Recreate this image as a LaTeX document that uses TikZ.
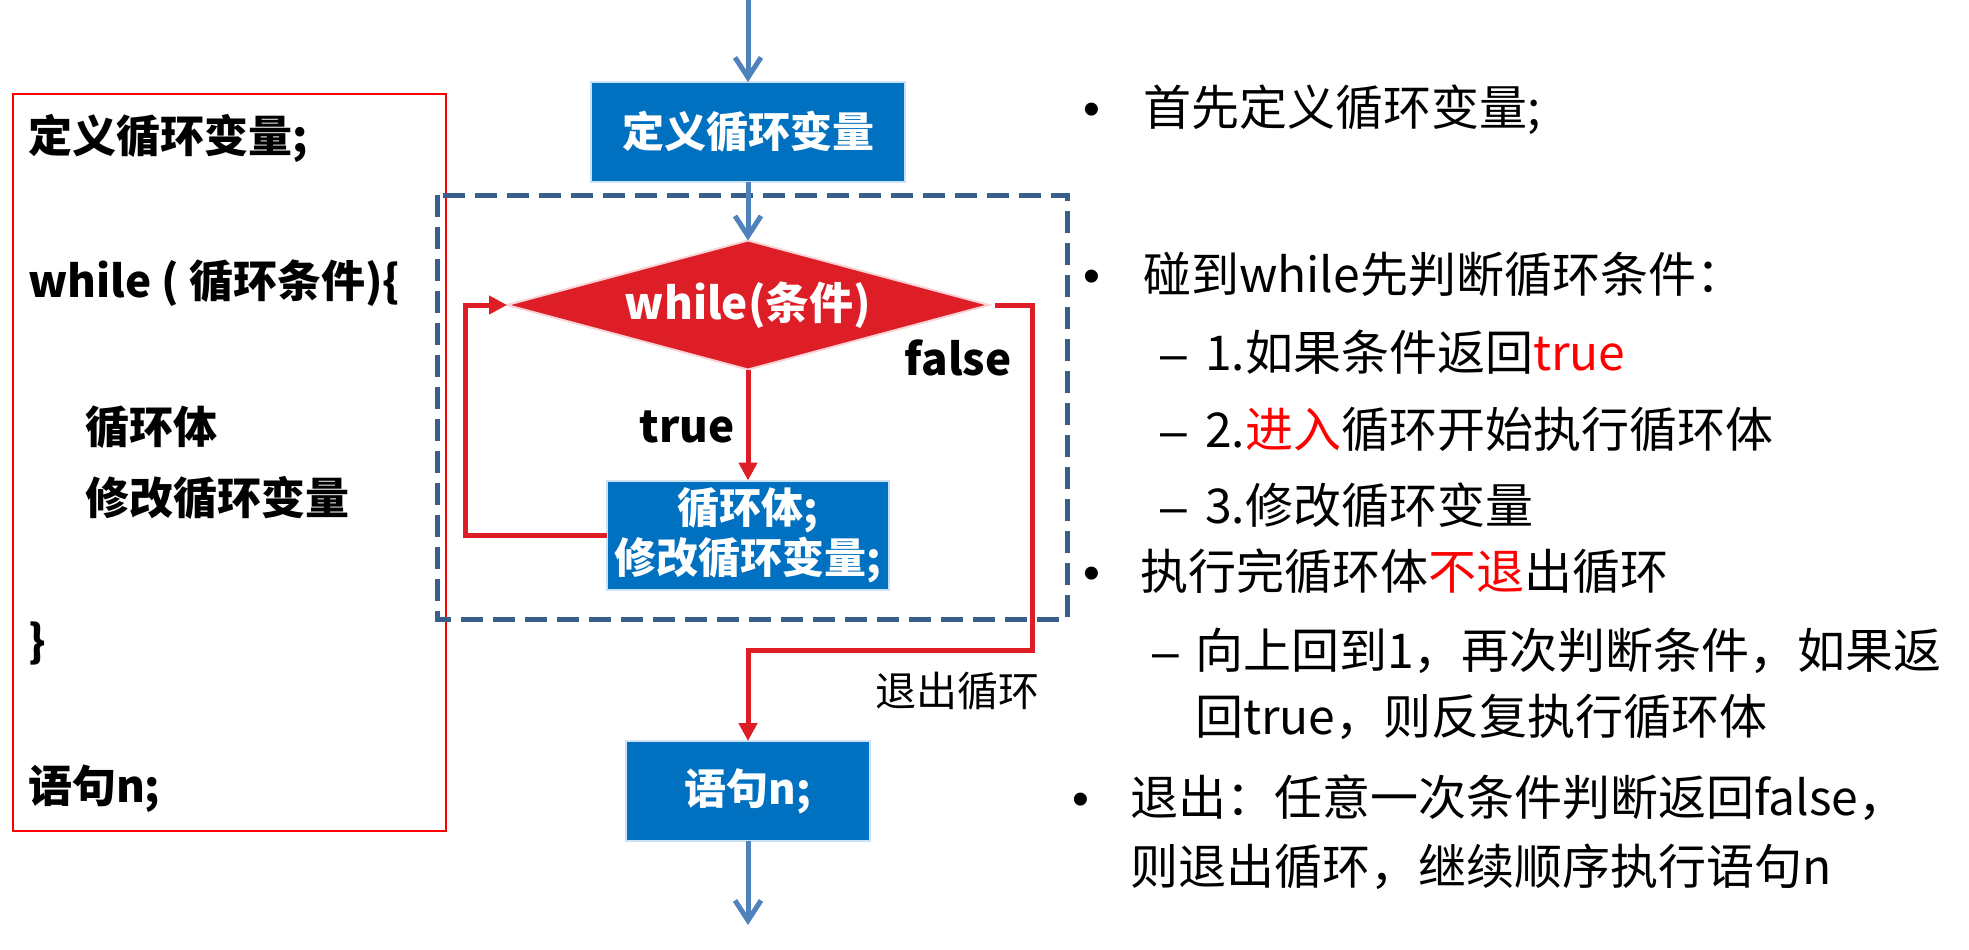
\documentclass[tikz,border=0pt]{standalone}
\usepackage{fontspec}
\setmainfont{Noto Sans CJK SC}
\newfontfamily\markfont{Liberation Sans}
\usetikzlibrary{shapes.geometric,arrows.meta}
\definecolor{boxblue}{RGB}{0,112,192}
\definecolor{flowred}{RGB}{221,30,38}
\definecolor{arrowblue}{RGB}{79,129,189}
\definecolor{dashblue}{RGB}{58,94,140}
\definecolor{hotred}{RGB}{255,0,0}
\begin{document}
\begin{tikzpicture}[x=0.5pt, y=-0.5pt,
  every node/.style={inner sep=0pt, outer sep=0pt},
  stepbox/.style={fill=boxblue, draw=white!80!boxblue, line width=1pt, text=white,
    font=\bfseries\fontsize{21}{25}\selectfont, align=center},
  cond/.style={diamond, aspect=3.7, fill=flowred, draw=white!80!flowred, line width=1pt,
    text=white, font=\bfseries\fontsize{22}{26}\selectfont},
  code/.style={anchor=west, font=\bfseries\fontsize{22}{26}\selectfont},
  note/.style={anchor=west, text height=21pt, text depth=3pt, font=\fontsize{24}{29}\selectfont},
  bulletmark/.style={note, font=\markfont\fontsize{24}{29}\selectfont},
  tag/.style={font=\bfseries\fontsize{22}{26}\selectfont},
  bluearrow/.style={draw=arrowblue, line width=2.5pt, -{Straight Barb[length=10pt, width=13pt, line width=2.5pt]}},
  redline/.style={draw=flowred, line width=2.5pt},
  redarrow/.style={redline, -{Triangle[length=9pt, width=9pt]}}
]
\useasboundingbox (0,0) rectangle (1969,949);

% source code box
\draw[hotred, line width=0.8pt] (13,94) rectangle (446,831);
\node[code] (c1) at (28,138) {定义循环变量;};
\node[code] (c2) at (28,283) {while ( 循环条件)\{};
\node[code] (c3) at (85,427) {循环体};
\node[code] (c4) at (85,498) {修改循环变量};
\node[code] (c5) at (28,643) {\}};
\node[code] (c6) at (28,789) {语句n;};

% loop region
\draw[dashblue, line width=2.5pt, dash pattern=on 11pt off 5pt] (437,195) rectangle (1067,619);

% flowchart
\coordinate (top) at (748,0);
\coordinate (bottom) at (748,925);
\node[stepbox, minimum width=157pt, minimum height=50pt] (init) at (748,132) {定义循环变量};
\node[cond, minimum width=241pt, minimum height=64.5pt] (test) at (748,305) {while(条件)};
\node[stepbox, minimum width=141pt, minimum height=54.5pt] (body) at (748,535) {循环体;\\修改循环变量;};
\node[stepbox, minimum width=122pt, minimum height=50pt] (next) at (748,791) {语句n;};
\coordinate (backl) at (465,535);
\coordinate (backu) at (465,305);
\coordinate (exitr) at (1032,305);
\coordinate (exitd) at (1032,650);
\coordinate (exitl) at (748,650);

\draw[bluearrow] (top) -- (init);
\draw[bluearrow] (init) -- (test);
\draw[redarrow] (test) -- (body);
\draw[redarrow] (body.west) -- (backl) -- (backu) -- (test.west);
\draw[redarrow] ([xshift=3pt]test.east) -- (exitr) -- (exitd) -- (exitl) -- (next);
\draw[bluearrow] (next) -- (bottom);

\node[tag] (t) at (687,427) {true};
\node[tag] (f) at (958,358) {false};
\node[font=\fontsize{20.5}{24}\selectfont] (q) at (957,691) {退出循环};

% notes
\node[bulletmark] (b1) at (1083,107) {•};
\node[note] (n1) at (1143,107) {首先定义循环变量;};
\node[bulletmark] (b2) at (1083,274) {•};
\node[note] (n2) at (1143,274) {碰到while先判断循环条件：};
\node[bulletmark] (d1) at (1160,352) {–};
\node[note] (n3) at (1205,352) {1.如果条件返回\textcolor{hotred}{true}};
\node[bulletmark] (d2) at (1160,429) {–};
\node[note] (n4) at (1205,429) {2.\textcolor{hotred}{进入}循环开始执行循环体};
\node[bulletmark] (d3) at (1160,505) {–};
\node[note] (n5) at (1205,505) {3.修改循环变量};
\node[bulletmark] (b3) at (1083,571) {•};
\node[note] (n6) at (1140,571) {执行完循环体\textcolor{hotred}{不退}出循环};
\node[bulletmark] (d4) at (1152,650) {–};
\node[note] (n7) at (1195,650) {向上回到1，再次判断条件，如果返};
\node[note] (n8) at (1195,716) {回true，则反复执行循环体};
\node[bulletmark] (b4) at (1072,797) {•};
\node[note] (n9) at (1130,797) {退出：任意一次条件判断返回false，};
\node[note] (n10) at (1130,866) {则退出循环，继续顺序执行语句n};
\end{tikzpicture}
\end{document}
